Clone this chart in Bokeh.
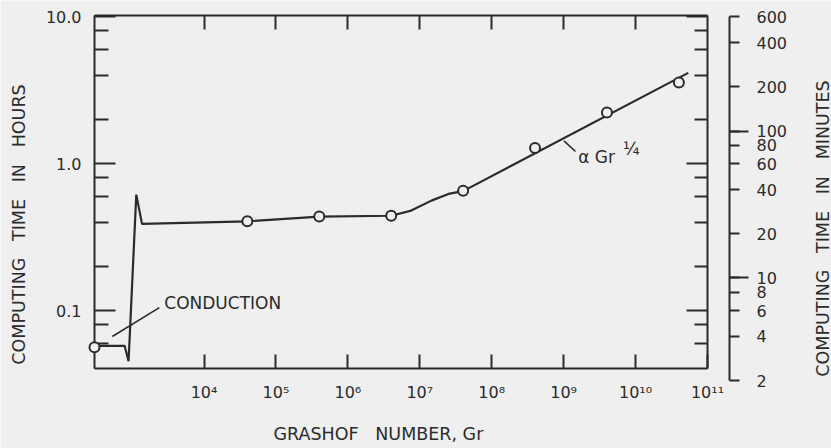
import math
from bokeh.plotting import figure
from bokeh.models import Range1d, LogAxis, LogScale, FixedTicker, CustomJSTickFormatter, Label
from bokeh.embed import file_html
from bokeh.resources import INLINE

# ---- data ----
# open circles: computed cases (Grashof number, computing time in hours)
point_gr = [300, 4e4, 4e5, 4e6, 4e7, 4e8, 4e9, 4e10]
point_hr = [0.0562, 0.405, 0.436, 0.442, 0.655, 1.28, 2.23, 3.57]

# drawn curve (faired line incl. conduction spike and alpha Gr^1/4 branch)
curve_gr = [300, 787, 893, 1143, 1374, 4e4, 4e5, 4e6, 7.6e6, 1.45e7, 2.5e7, 4e7, 5.4e10]
curve_hr = [0.0575, 0.0575, 0.0452, 0.615, 0.389, 0.405, 0.436, 0.442, 0.479, 0.56, 0.622, 0.65, 4.15]

# axis ticks
x_ticks = [1e4, 1e5, 1e6, 1e7, 1e8, 1e9, 1e10, 1e11]
x_top_ticks = [1e4, 1e5, 1e6, 1e7, 1e8, 1e9, 1e10]
hr_ticks = [0.1, 1.0, 10.0]
hr_minor = [0.06, 0.08, 0.2, 0.4, 0.6, 0.8, 2, 4, 6, 8]
min_ticks = [2, 4, 6, 8, 10, 20, 40, 60, 80, 100, 200, 400, 600]
min_long = [10, 100]

# titles
SP = "\u00a0 \u00a0"
x_title = "GRASHOF" + SP + "NUMBER, Gr"
hr_title = SP.join(["COMPUTING", "TIME", "IN", "HOURS"])
min_title = SP.join(["COMPUTING", "TIME", "IN", "MINUTES"])

# annotation anchors (data units)
cond_text = (2800, 0.1117)
cond_leader = ([2390], [0.1047], [531], [0.0665])
gr_text = (1.59e9, 1.116)
quarter_text = (6.7e9, 1.26)
gr_leader = ([1.01e9], [1.43], [1.46e9], [1.21])

BG = "#efefef"
INK = "#2b2b2b"
FONT = "DejaVu Sans"
TITLE_SIZE = "17.5px"

# ---- geometry: the plotting area covers the whole canvas; the framed box sits inside ----
W, H = 831, 448
X_LO, X_HI = 300, 1e11          # box left / right
HR_LO, HR_HI = 0.0403, 10.2     # box bottom / top (hours)
BOX_L, BOX_R, BOX_T, BOX_B = 94, 707, 15, 368
PPD_X = (BOX_R - BOX_L) / math.log10(X_HI / X_LO)
PPD_Y = (BOX_B - BOX_T) / math.log10(HR_HI / HR_LO)
x_start = X_LO * 10 ** (-BOX_L / PPD_X)
x_end = X_HI * 10 ** ((W - BOX_R) / PPD_X)
y_start = HR_LO * 10 ** (-(H - BOX_B) / PPD_Y)
y_end = HR_HI * 10 ** (BOX_T / PPD_Y)
MIN_AXIS_X = X_HI * 10 ** (22 / PPD_X)   # minutes scale stands 22 px right of the box

p = figure(width=W, height=H, x_axis_type="log", y_axis_type="log",
           x_axis_location=None, y_axis_location=None,
           x_range=Range1d(x_start, x_end), y_range=Range1d(y_start, y_end),
           output_backend="svg", toolbar_location=None, min_border=0,
           background_fill_color=BG, border_fill_color=BG, outline_line_color=None)
p.x_scale = LogScale()
p.y_scale = LogScale()
p.extra_y_ranges = {"min": Range1d(y_start * 60, y_end * 60)}
p.extra_y_scales = {"min": LogScale()}
p.grid.visible = False

xsup = CustomJSTickFormatter(code="""
const e = Math.round(Math.log10(tick));
const sup = ['\u2070','\u00b9','\u00b2','\u00b3','\u2074','\u2075','\u2076','\u2077','\u2078','\u2079'];
return '10' + String(e).split('').map(d => sup[+d]).join('');
""")
empty = CustomJSTickFormatter(code="return '';")

common = dict(axis_line_color=INK, axis_line_width=2,
              major_tick_line_color=INK, major_tick_line_width=2,
              minor_tick_line_color=INK, minor_tick_line_width=2,
              major_label_text_font=FONT, major_label_text_font_size="16px",
              major_label_text_color=INK)

bottom = LogAxis(ticker=FixedTicker(ticks=x_ticks, minor_ticks=[]), formatter=xsup,
                 fixed_location=HR_LO, bounds=(X_LO, X_HI),
                 major_tick_in=14, major_tick_out=0, minor_tick_in=0, minor_tick_out=0,
                 major_label_standoff=14, **common)
p.add_layout(bottom, "below")

top = LogAxis(ticker=FixedTicker(ticks=x_top_ticks, minor_ticks=[]), formatter=empty,
              fixed_location=HR_HI, bounds=(X_LO, X_HI),
              major_tick_in=14, major_tick_out=0, minor_tick_in=0, minor_tick_out=0,
              major_label_standoff=0, **common)
p.add_layout(top, "above")

left = LogAxis(ticker=FixedTicker(ticks=hr_ticks, minor_ticks=hr_minor),
               formatter=CustomJSTickFormatter(code="return tick >= 1 ? tick.toFixed(1) : tick.toString();"),
               fixed_location=X_LO, bounds=(HR_LO, HR_HI),
               major_tick_in=21, major_tick_out=0, minor_tick_in=14, minor_tick_out=0,
               major_label_standoff=13, **common)
p.add_layout(left, "left")

right = LogAxis(ticker=FixedTicker(ticks=hr_ticks, minor_ticks=hr_minor), formatter=empty,
                fixed_location=X_HI, bounds=(HR_LO, HR_HI),
                major_tick_in=21, major_tick_out=0, minor_tick_in=13, minor_tick_out=0,
                major_label_standoff=0, **common)
p.add_layout(right, "right")

minutes = LogAxis(y_range_name="min", ticker=FixedTicker(ticks=min_ticks, minor_ticks=min_long),
                  formatter=CustomJSTickFormatter(code="return tick.toFixed(0);"),
                  fixed_location=MIN_AXIS_X, bounds=(2, 600),
                  major_tick_in=0, major_tick_out=10, minor_tick_in=0, minor_tick_out=19,
                  major_label_standoff=8, **common)
p.add_layout(minutes, "right")

p.line(curve_gr, curve_hr, line_color=INK, line_width=2.2)
p.scatter(point_gr, point_hr, marker="circle", size=10, fill_color=BG,
          line_color=INK, line_width=2, level="overlay")

p.segment(x0=cond_leader[0], y0=cond_leader[1], x1=cond_leader[2], y1=cond_leader[3],
          line_color=INK, line_width=1.6)
p.segment(x0=gr_leader[0], y0=gr_leader[1], x1=gr_leader[2], y1=gr_leader[3],
          line_color=INK, line_width=1.6)
p.add_layout(Label(x=cond_text[0], y=cond_text[1], text="CONDUCTION",
                   text_font=FONT, text_font_size="17px", text_color=INK,
                   text_align="left", text_baseline="middle"))
p.add_layout(Label(x=gr_text[0], y=gr_text[1], text="\u03b1 Gr",
                   text_font=FONT, text_font_size="17px", text_color=INK,
                   text_align="left", text_baseline="middle"))
p.add_layout(Label(x=quarter_text[0], y=quarter_text[1], text="\u00bc",
                   text_font=FONT, text_font_size="17px", text_color=INK,
                   text_align="left", text_baseline="middle"))

# axis titles (screen units: px from the canvas' lower-left corner)
p.add_layout(Label(x=18, y=H - 224, x_units="screen", y_units="screen", text=hr_title,
                   angle=math.pi / 2, text_font=FONT, text_font_size=TITLE_SIZE,
                   text_color=INK, text_align="center", text_baseline="middle"))
p.add_layout(Label(x=273, y=H - 433, x_units="screen", y_units="screen", text=x_title,
                   text_font=FONT, text_font_size=TITLE_SIZE,
                   text_color=INK, text_align="left", text_baseline="middle"))
p.add_layout(Label(x=822, y=H - 228, x_units="screen", y_units="screen", text=min_title,
                   angle=math.pi / 2, text_font=FONT, text_font_size=TITLE_SIZE,
                   text_color=INK, text_align="center", text_baseline="middle"))

open("out.html", "w").write(file_html(p, INLINE))
